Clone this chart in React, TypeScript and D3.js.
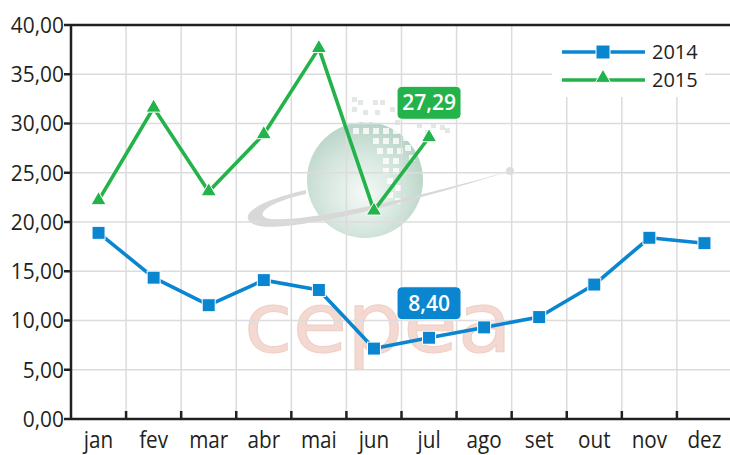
import React from "react";
import * as d3 from "d3";

const months = ["jan", "fev", "mar", "abr", "mai", "jun", "jul", "ago", "set", "out", "nov", "dez"];
const values2014 = [18.9, 14.35, 11.55, 14.1, 13.1, 7.15, 8.25, 9.3, 10.35, 13.65, 18.4, 17.85];
const values2015 = [22.2, 31.6, 23.1, 28.9, 37.65, 21.15, 28.6];
const yTicks = [0, 5, 10, 15, 20, 25, 30, 35, 40];
const seriesNames = ["2014", "2015"];
const annotations = [
  { series: 1, month: "jul", text: "27,29" },
  { series: 0, month: "jul", text: "8,40" },
];

// decorative watermark pixels (relative to globe centre)
const pixelSquares: [number, number, number][] = [
  [-13, -83, 0], [-7, -80, 0], [8, -80, 0], [15, -80, 0], [-13, -73, 0], [-2, -70, 0], [10, -70, 0], [25, -73, 0],
  [52, -57, 0], [66, -57, 0], [75, -55, 0], [80, -52, 0], [30, -60, 0], [60, -50, 0],
  [-12, -62, 1], [-2, -62, 1], [8, -62, 1], [18, -62, 1], [-12, -52, 1], [-2, -52, 1], [8, -52, 1], [18, -52, 1],
  [28, -52, 1], [38, -45, 1], [8, -42, 1], [18, -42, 1], [28, -42, 1], [40, -35, 1], [12, -32, 1], [22, -32, 1],
  [32, -32, 1], [44, -25, 1], [18, -22, 1], [28, -22, 1], [18, -12, 1], [28, -12, 1], [22, -2, 1], [30, 5, 1],
  [22, 12, 1], [30, 18, 1],
];

const W = 730;
const H = 455;
const left = 71;
const top = 25;
const bottom = 419;
const right = 732;
const blue = "#0a86d1";
const green = "#24b24b";
const font = "'Open Sans', sans-serif";
const textColor = "#231f20";

export default function App() {
  const x = d3.scaleBand<string>().domain(months).range([left, right]).padding(0);
  const y = d3.scaleLinear().domain([0, 40]).range([bottom, top]);
  const cx = (m: string) => (x(m) as number) + x.bandwidth() / 2;
  const line = d3.line<number>().x((_, i) => cx(months[i])).y((v) => y(v));
  const seriesData = [values2014, values2015];
  const colors = [blue, green];

  const sq = 13;
  const tri = d3.symbol().type(d3.symbolTriangle).size(100)();
  const gcx = 365;
  const gcy = 180;
  const sx = 0.9;

  return (
    <svg width={W} height={H} style={{ position: "absolute", left: 0, top: 0, background: "#fff" }} fontFamily={font}>
      <defs>
        <radialGradient id="globe" cx="0.45" cy="0.6" r="0.6" fx="0.5" fy="0.62">
          <stop offset="0" stopColor="#f6f9f7" />
          <stop offset="0.55" stopColor="#d6e7df" />
          <stop offset="1" stopColor="#b7d3c6" />
        </radialGradient>
      </defs>
      {/* watermark */}
      <g>
        <circle cx={gcx} cy={gcy} r={58} fill="url(#globe)" />
        {pixelSquares.map(([dx, dy, t], i) => (
          <rect key={i} x={gcx + dx} y={gcy + dy} width={t ? 6 : 5} height={t ? 6 : 5}
            fill={t ? "#ffffff" : "#e3e7e5"} opacity={t ? 0.8 : 1} />
        ))}
        <path
          d="M306 190 C262 200 236 214 253 224 C275 235 380 212 510 171 C400 202 305 222 270 219 C252 216 268 202 306 194 Z"
          fill="#d8d8d8"
        />
        <circle cx={510} cy={171} r={4} fill="#dedede" />
        <text x={244} y={352} fontFamily="'DejaVu Sans', sans-serif" fontSize={83}
          textLength={268} lengthAdjust="spacingAndGlyphs" fill="#f3d9d1" stroke="#efcfc5" strokeWidth={1}>cepea</text>
      </g>
      {/* grid */}
      <g stroke="#dcdcdc" strokeWidth={1.5}>
        {yTicks.filter((t) => t > 0 && t < 40).map((t) => (
          <line key={t} x1={left} x2={right} y1={y(t)} y2={y(t)} />
        ))}
        {months.slice(1).map((m) => (
          <line key={m} x1={x(m)} x2={x(m)} y1={top} y2={bottom} />
        ))}
      </g>
      {/* legend background */}
      <rect x={552} y={top + 1} width={153} height={71} fill="#fff" />
      {/* axes */}
      <g stroke="#231f20" strokeWidth={2.5} fill="none">
        <line x1={left} x2={right} y1={top} y2={top} />
        <line x1={left} x2={right} y1={bottom} y2={bottom} />
        <line x1={left} x2={left} y1={top - 1} y2={bottom + 1} />
        {yTicks.map((t) => (
          <line key={t} x1={left - 7} x2={left} y1={y(t)} y2={y(t)} />
        ))}
        {months.slice(1).map((m) => (
          <line key={m} x1={x(m)} x2={x(m)} y1={bottom - 8} y2={bottom} />
        ))}
      </g>
      <g fill={textColor}>
        {yTicks.map((t) => (
          <text key={t} x={left - 7} y={y(t)} dy="0.36em" textAnchor="end" fontSize={22}
            transform={`translate(${left - 7},0) scale(0.95,1) translate(${-(left - 7)},0)`}>
            {d3.format(".2f")(t).replace(".", ",")}
          </text>
        ))}
        {months.map((m) => (
          <text key={m} x={cx(m) / sx} y={448} textAnchor="middle" fontSize={23}
            transform={`scale(${sx},1)`}>{m}</text>
        ))}
      </g>
      {/* series */}
      {seriesData.map((vals, s) => (
        <g key={s}>
          <path d={line(vals) || ""} fill="none" stroke={colors[s]} strokeWidth={3.6} strokeLinejoin="round" />
          {vals.map((v, i) =>
            s === 0 ? (
              <rect key={i} x={cx(months[i]) - sq / 2} y={y(v) - sq / 2} width={sq} height={sq}
                fill={blue} stroke="#fff" strokeWidth={1} />
            ) : (
              <path key={i} d={tri || ""} transform={`translate(${cx(months[i])},${y(v)})`}
                fill={green} stroke="#fff" strokeWidth={1} />
            )
          )}
        </g>
      ))}
      {/* annotations */}
      {annotations.map((a, k) => {
        const i = months.indexOf(a.month);
        const v = seriesData[a.series][i];
        const px = cx(a.month);
        const py = y(v) - 18;
        return (
          <g key={k}>
            <rect x={px - 32} y={py - 33} width={64} height={33} rx={5} fill={colors[a.series]} stroke="#fff" strokeWidth={1} />
            <text x={px} y={py - 16.5} dy="0.36em" textAnchor="middle" fill="#fff" fontSize={21} fontWeight={600}>{a.text}</text>
          </g>
        );
      })}
      {/* legend */}
      {seriesNames.map((n, s) => {
        const ly = 52 + s * 28;
        return (
          <g key={n}>
            <line x1={562} x2={645} y1={ly} y2={ly} stroke={colors[s]} strokeWidth={3.5} />
            {s === 0 ? (
              <rect x={603 - 7} y={ly - 7} width={14} height={14} fill={blue} stroke="#fff" strokeWidth={1} />
            ) : (
              <path d={tri || ""} transform={`translate(603,${ly - 2})`} fill={green} stroke="#fff" strokeWidth={1} />
            )}
            <text x={652} y={ly} dy="0.36em" fontSize={20} fill={textColor}>{n}</text>
          </g>
        );
      })}
    </svg>
  );
}
